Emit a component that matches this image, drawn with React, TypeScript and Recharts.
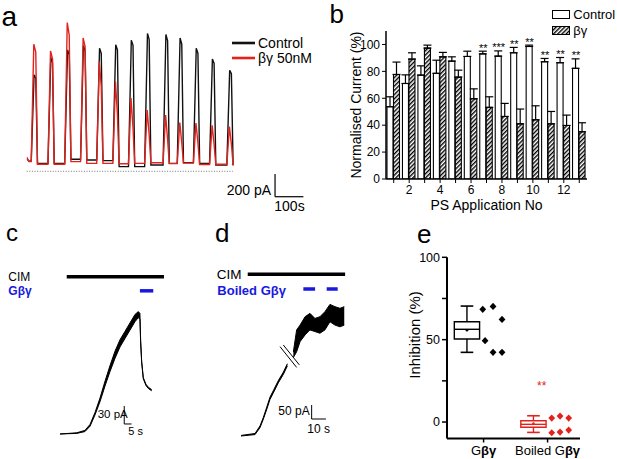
import React from "react"
import {
  ComposedChart,
  LineChart,
  ScatterChart,
  Line,
  Bar,
  Area,
  Scatter,
  XAxis,
  YAxis,
  ErrorBar,
  ReferenceLine,
  ReferenceArea,
  ReferenceDot,
  LabelList,
  Legend,
} from "recharts"

const W = 617
const H = 459
const FONT = '"Liberation Sans", Arial, Helvetica, sans-serif'
const RED = "#e3221c"
const BLUE = "#1818e0"

// ---- panel a: PS application traces (pA vs s)
const aOnset = [16, 75, 134, 190, 247, 304, 359, 416, 481, 531, 588, 645, 706]
const aEnd = 724
const aCtrlStart = 110
const aCtrlGap = [90, 70, 70, 106, 100, 94, 41, 41, 55, 70, 76, 70, 55, 60]
const aCtrlPeak = [850, 1000, 1070, 1110, 1085, 1115, 1155, 1215, 1205, 1175, 1085, 990, 890]
const aCtrlPlateau = [820, 960, 1030, 1060, 1040, 1070, 1110, 1160, 1150, 1120, 1040, 950, 860]
const aBgStart = 125
const aBgGap = [85, 62, 62, 85, 70, 70, 66, 70, 75, 68, 72, 60, 62, 60]
const aBgPeak = [1120, 1060, 1310, 1175, 965, 790, 645, 540, 495, 430, 425, 405, 395]
const aBgPlateau = [1050, 990, 1200, 1100, 750, 500, 380, 320, 280, 250, 250, 240, 240]

// ---- panel b: normalised current per application
const psApp = [1, 2, 3, 4, 5, 6, 7, 8, 9, 10, 11, 12, 13]
const ctrlMean = [53.7, 71, 77.2, 78.5, 87.6, 91.1, 93, 91.3, 93.8, 98.5, 87.1, 86.4, 82.2]
const ctrlSem = [7.4, 6.4, 6.9, 9.8, 3.2, 3.9, 2, 3.9, 4, 1, 2.5, 3.9, 7.1]
const bgMean = [77.7, 89.1, 97.3, 90.8, 75.7, 59.6, 53.2, 46.5, 41, 44, 41, 39.8, 35.1]
const bgSem = [9.2, 4.7, 2.2, 3.3, 5.2, 7.4, 7.9, 9.7, 11, 10.4, 9.2, 7.7, 6.7]
const sigMarks = ["", "", "", "", "", "", "**", "***", "**", "**", "**", "**", "**"]

// ---- panel c: CIM current, Gbg applied
const cTime = [3.4, 14.8, 20.4, 23.9, 27.3, 30.7, 34.1, 37.5, 40.9, 44.3, 47.7, 51.1, 54.5, 56.8, 57.9, 58.4, 59.1, 60.2, 62, 63.6, 65.9]
const cLow = [0, 1, 4, 13, 32, 54, 80, 104, 126, 145, 159, 173, 187, 194, 191, 152, 119, 92, 81, 76, 72]
const cHigh = [0, 2, 6, 16, 36, 60, 88, 114, 138, 157, 171, 185, 199, 204, 201, 156, 121, 94, 83, 78, 74]
const cCim = [8, 74.3]
const cGbg = [57.9, 67]

// ---- panel d: CIM current, boiled Gbg
const dTime = [4.2, 14, 17.5, 19.8, 22.2, 24.5, 26.8, 30.3, 33.8, 36.6, 38.7, 40.8, 43.1, 45.5, 49, 52.4, 55.9, 59.4, 62.9, 66.4, 69.9, 73.4, 76.4]
const dLow = [0, 5, 30, 60, 95, 131, 154, 190, 220, 250, null, 280, 301, 337, 361, 379, 373, 367, 379, 408, 396, 390, 396]
const dHigh = [2, 9, 36, 66, 103, 139, 162, 198, 228, 258, null, 300, 379, 396, 426, 438, 420, 426, 444, 470, 462, 456, 462]
const dCim = [8.9, 77]
const dBoiled = [[47.8, 56], [64.1, 71.8]]

// ---- panel e: inhibition box plots
const eGroupParts = [["G", "βγ"], ["Boiled G", "βγ"]]
const eTickPos = [2, 5.85]
const eBoxPos = [1, 5]
const eColor = ["#000", RED]
const eLow = [42.3, -6.3]
const eQ1 = [50.4, -3.2]
const eMed = [56.3, -1.4]
const eQ3 = [60.9, 0.8]
const eHigh = [70.4, 3.8]
const eMean = [55.7, -1.0]
const gbX = [1.95, 2.57, 3.11, 2.09, 2.57, 3.11]
const gbY = [68.4, 70.2, 62.3, 49.4, 42.3, 42.3]
const boilX = [6.1, 6.6, 7.12, 6.1, 6.6, 7.12]
const boilY = [2.4, 3.6, 2.4, -6.5, -6.1, -4.9]

function traceA(start: number, gap: number[], peak: number[], plateau: number[], rise: number) {
  const pts = [{ t: 0, v: start }, { t: 8, v: gap[0] }]
  aOnset.forEach((t0, i) => {
    pts.push({ t: t0, v: gap[i] })
    pts.push({ t: t0 + rise, v: peak[i] })
    pts.push({ t: t0 + 16, v: plateau[i] })
    pts.push({ t: t0 + 22, v: gap[i + 1] })
  })
  pts.push({ t: aEnd, v: gap[gap.length - 1] })
  return pts
}

const ctrlTrace = traceA(aCtrlStart, aCtrlGap, aCtrlPeak, aCtrlPlateau, 10)
const bgTrace = traceA(aBgStart, aBgGap, aBgPeak, aBgPlateau, 9)

const bTable = psApp.map((n, i) => ({
  n,
  ctrl: ctrlMean[i],
  bg: bgMean[i],
  ctrlErr: [0, ctrlSem[i]],
  bgErr: [0, bgSem[i]],
  sigTop: sigMarks[i] ? ctrlMean[i] + ctrlSem[i] : null,
  sig: sigMarks[i],
}))

const cData = cTime.map((t, i) => ({ t, range: [cLow[i], cHigh[i]] }))
const dData = dTime.map((t, i) => ({ t, range: dLow[i] === null ? null : [dLow[i], dHigh[i]] }))
const gbPts = gbX.map((x, i) => ({ x, y: gbY[i] }))
const boilPts = boilX.map((x, i) => ({ x, y: boilY[i] }))

const BAR = 6
const BAR_GAP = 0.5
const BOX_HALF = 0.76
const CAP_HALF = 0.38

const Txt = ({ x, y, size, color = "#000", bold = false, children }: any) => (
  <div
    style={{
      position: "absolute",
      left: x,
      top: y - size * 0.8465,
      fontSize: size,
      lineHeight: 1,
      color,
      fontWeight: bold ? "bold" : "normal",
      whiteSpace: "nowrap",
    }}
  >
    {children}
  </div>
)

const visible = (payload: any[]) => (payload || []).filter((p: any) => p.type !== "none" && p.dataKey !== "sigTop")

const TraceLegend = ({ payload }: any) => (
  <div>
    {visible(payload).map((p: any) => (
      <div key={p.value} style={{ display: "flex", alignItems: "center", height: 15.6 }}>
        <svg width={23.3} height={4}>
          <line x1={0} y1={2} x2={23.3} y2={2} stroke={p.color} strokeWidth={2.6} />
        </svg>
        <span style={{ marginLeft: 3, fontSize: 14, color: "#000" }}>{p.value}</span>
      </div>
    ))}
  </div>
)

const BarLegend = ({ payload }: any) => (
  <div>
    {visible(payload).map((p: any) => (
      <div key={p.value} style={{ display: "flex", alignItems: "center", height: 16.5 }}>
        <svg width={18} height={9}>
          <rect x={0.5} y={0.5} width={17} height={8} fill={p.color} stroke="#000" strokeWidth={1} />
        </svg>
        <span style={{ marginLeft: 3.3, fontSize: 13, color: "#000" }}>{p.value}</span>
      </div>
    ))}
  </div>
)

const SigLabel = ({ x, y, value }: any) =>
  value ? (
    <text x={x - (BAR + BAR_GAP) / 2} y={y + 0.5} textAnchor="middle" fontSize={11} fill="#000">
      {value}
    </text>
  ) : null

const GroupTick = ({ x, y, payload }: any) => {
  const i = eTickPos.indexOf(payload.value)
  const [plain, bold] = eGroupParts[i]
  return (
    <text x={x} y={y + 10.5} textAnchor="middle" fontSize={13} fill="#000">
      <tspan>{plain}</tspan>
      <tspan fontWeight="bold">{bold}</tspan>
    </text>
  )
}

const Diamond = ({ cx, cy, fill }: any) => (
  <polygon points={`${cx},${cy - 3.6} ${cx + 3.4},${cy} ${cx},${cy + 3.6} ${cx - 3.4},${cy}`} fill={fill} />
)

const layer = { position: "absolute" as const, left: 0, top: 0 }

export default function App() {
  return (
    <div
      style={{
        position: "absolute",
        left: 0,
        top: 0,
        width: W,
        height: H,
        background: "#fff",
        fontFamily: FONT,
        overflow: "hidden",
      }}
    >
      {/* a */}
      <div style={layer}>
        <LineChart width={W} height={H} margin={{ left: 26.7, right: 306.8, top: 14.7, bottom: 258.2 }}>
          <XAxis type="number" dataKey="t" domain={[0, 1000]} allowDataOverflow hide />
          <YAxis type="number" domain={[-260, 1380]} allowDataOverflow hide />
          <ReferenceLine segment={[{ x: 0, y: 0 }, { x: 727, y: 0 }]} stroke="#777" strokeDasharray="1 1.6" />
          <Line data={ctrlTrace} dataKey="v" name="Control" stroke="#111" strokeWidth={1.4} dot={false} isAnimationActive={false} />
          <Line data={bgTrace} dataKey="v" name="βγ 50nM" stroke={RED} strokeWidth={1.4} dot={false} isAnimationActive={false} />
          <ReferenceLine segment={[{ x: 876, y: -24 }, { x: 876, y: -224 }]} stroke="#000" strokeWidth={1.2} />
          <ReferenceLine segment={[{ x: 876, y: -224 }, { x: 976, y: -224 }]} stroke="#000" strokeWidth={1.2} />
          <Legend
            layout="vertical"
            align="center"
            verticalAlign="middle"
            wrapperStyle={{ left: 231.7, top: 34.9, width: 90 }}
            content={TraceLegend}
          />
        </LineChart>
      </div>

      {/* b */}
      <div style={layer}>
        <ComposedChart
          width={W}
          height={H}
          data={bTable}
          margin={{ left: 326, right: 30, top: 31, bottom: 240 }}
          barSize={BAR}
          barGap={BAR_GAP}
        >
          <defs>
            <pattern id="hatch" patternUnits="userSpaceOnUse" width={3} height={3} patternTransform="rotate(45)">
              <rect width={3} height={3} fill="#fff" />
              <line x1={0.7} y1={0} x2={0.7} y2={3} stroke="#000" strokeWidth={1.4} />
            </pattern>
          </defs>
          <XAxis
            dataKey="n"
            interval={0}
            tickFormatter={(v: number) => (v % 2 === 0 ? String(v) : "")}
            tick={{ fontSize: 12, fill: "#000" }}
            tickSize={4}
            axisLine={{ stroke: "#000", strokeWidth: 1.5 }}
            tickLine={{ stroke: "#000" }}
            height={40}
            label={{ value: "PS Application No", position: "insideBottom", offset: 9, fontSize: 14, fill: "#000" }}
          />
          <YAxis
            domain={[0, 110]}
            ticks={[0, 20, 40, 60, 80, 100]}
            allowDataOverflow
            width={60}
            tickSize={4}
            tick={{ fontSize: 12, fill: "#000" }}
            axisLine={{ stroke: "#000", strokeWidth: 1.5 }}
            tickLine={{ stroke: "#000" }}
            label={{ value: "Normalised Current (%)", angle: -90, position: "center", fontSize: 14, fill: "#000" }}
          />
          <Bar dataKey="ctrl" name="Control" fill="#fff" stroke="#000" strokeWidth={1.1} isAnimationActive={false}>
            <ErrorBar dataKey="ctrlErr" width={4} stroke="#000" strokeWidth={1.2} direction="y" />
          </Bar>
          <Bar dataKey="bg" name="βγ" fill="url(#hatch)" stroke="#000" strokeWidth={1.1} isAnimationActive={false}>
            <ErrorBar dataKey="bgErr" width={4} stroke="#000" strokeWidth={1.2} direction="y" />
          </Bar>
          <Line dataKey="sigTop" stroke="none" dot={false} activeDot={false} legendType="none" isAnimationActive={false}>
            <LabelList dataKey="sig" content={SigLabel} />
          </Line>
          <Legend
            layout="vertical"
            align="center"
            verticalAlign="middle"
            wrapperStyle={{ left: 552, top: 6, width: 65 }}
            content={BarLegend}
          />
        </ComposedChart>
      </div>

      {/* c */}
      <div style={layer}>
        <ComposedChart width={W} height={H} data={cData} margin={{ left: 55, right: 447.6, top: 270, bottom: 19 }}>
          <XAxis type="number" dataKey="t" domain={[0, 78]} allowDataOverflow hide />
          <YAxis type="number" domain={[-10, 273.3]} allowDataOverflow hide />
          <Area dataKey="range" type="linear" stroke="#000" strokeWidth={1} fill="#000" fillOpacity={1} isAnimationActive={false} />
          <ReferenceLine segment={[{ x: cCim[0], y: 262 }, { x: cCim[1], y: 262 }]} stroke="#000" strokeWidth={3.5} />
          <ReferenceLine segment={[{ x: cGbg[0], y: 238.6 }, { x: cGbg[1], y: 238.6 }]} stroke={BLUE} strokeWidth={3.5} />
          <ReferenceLine segment={[{ x: 47.2, y: 46.7 }, { x: 47.2, y: 16.7 }]} stroke="#000" strokeWidth={1} />
          <ReferenceLine segment={[{ x: 47.2, y: 16.7 }, { x: 52.2, y: 16.7 }]} stroke="#000" strokeWidth={1} />
        </ComposedChart>
      </div>

      {/* d */}
      <div style={layer}>
        <ComposedChart width={W} height={H} data={dData} margin={{ left: 235, right: 267.6, top: 268, bottom: 18.8 }}>
          <XAxis type="number" dataKey="t" domain={[0, 80]} allowDataOverflow hide />
          <YAxis type="number" domain={[-15, 600]} allowDataOverflow hide />
          <Area dataKey="range" type="linear" stroke="#000" strokeWidth={1} fill="#000" fillOpacity={1} connectNulls={false} isAnimationActive={false} />
          <ReferenceLine segment={[{ x: 31.5, y: 319 }, { x: 43.1, y: 245 }]} stroke="#000" strokeWidth={1} />
          <ReferenceLine segment={[{ x: 33.8, y: 325 }, { x: 45, y: 254 }]} stroke="#000" strokeWidth={1} />
          <ReferenceLine segment={[{ x: dCim[0], y: 577.5 }, { x: dCim[1], y: 577.5 }]} stroke="#000" strokeWidth={3.5} />
          {dBoiled.map(([a, b]) => (
            <ReferenceLine key={a} segment={[{ x: a, y: 525 }, { x: b, y: 525 }]} stroke={BLUE} strokeWidth={3.5} />
          ))}
          <ReferenceLine segment={[{ x: 53.6, y: 110.7 }, { x: 53.6, y: 60.7 }]} stroke="#000" strokeWidth={1} />
          <ReferenceLine segment={[{ x: 53.6, y: 60.7 }, { x: 63.6, y: 60.7 }]} stroke="#000" strokeWidth={1} />
        </ComposedChart>
      </div>

      {/* e */}
      <div style={layer}>
        <ScatterChart width={W} height={H} margin={{ left: 383, right: 37, top: 257.3, bottom: 0.5 }}>
          <XAxis
            type="number"
            dataKey="x"
            domain={[-0.2, 7.8]}
            allowDataOverflow
            ticks={eTickPos}
            tick={GroupTick}
            tickSize={4}
            axisLine={{ stroke: "#000", strokeWidth: 2 }}
            tickLine={{ stroke: "#000", strokeWidth: 1.5 }}
            height={20}
          />
          <YAxis
            type="number"
            dataKey="y"
            domain={[-10, 100]}
            allowDataOverflow
            ticks={[0, 25, 50, 75, 100]}
            tickFormatter={(v: number) => (v % 50 === 0 ? String(v) : "")}
            width={64}
            tickSize={5}
            tick={{ fontSize: 12.5, fill: "#000" }}
            axisLine={{ stroke: "#000", strokeWidth: 2 }}
            tickLine={{ stroke: "#000", strokeWidth: 1.5 }}
            label={{ value: "Inhibition (%)", angle: -90, position: "center", dy: -13, fontSize: 15, fill: "#000" }}
          />
          {eBoxPos.map((p, i) => (
            <ReferenceArea
              key={"box" + i}
              x1={p - BOX_HALF}
              x2={p + BOX_HALF}
              y1={eQ1[i]}
              y2={eQ3[i]}
              fill="none"
              stroke={eColor[i]}
              strokeWidth={1.4}
              fillOpacity={0}
            />
          ))}
          {eBoxPos.map((p, i) => (
            <ReferenceLine key={"med" + i} segment={[{ x: p - BOX_HALF, y: eMed[i] }, { x: p + BOX_HALF, y: eMed[i] }]} stroke={eColor[i]} strokeWidth={1.4} />
          ))}
          {eBoxPos.map((p, i) => (
            <ReferenceLine key={"wh" + i} segment={[{ x: p, y: eQ3[i] }, { x: p, y: eHigh[i] }]} stroke={eColor[i]} strokeWidth={1.4} />
          ))}
          {eBoxPos.map((p, i) => (
            <ReferenceLine key={"wl" + i} segment={[{ x: p, y: eLow[i] }, { x: p, y: eQ1[i] }]} stroke={eColor[i]} strokeWidth={1.4} />
          ))}
          {eBoxPos.map((p, i) => (
            <ReferenceLine key={"ch" + i} segment={[{ x: p - CAP_HALF, y: eHigh[i] }, { x: p + CAP_HALF, y: eHigh[i] }]} stroke={eColor[i]} strokeWidth={1.6} />
          ))}
          {eBoxPos.map((p, i) => (
            <ReferenceLine key={"cl" + i} segment={[{ x: p - CAP_HALF, y: eLow[i] }, { x: p + CAP_HALF, y: eLow[i] }]} stroke={eColor[i]} strokeWidth={1.6} />
          ))}
          {eBoxPos.map((p, i) => (
            <ReferenceDot key={"mean" + i} x={p} y={eMean[i]} r={1.3} fill={eColor[i]} stroke="none" />
          ))}
          <Scatter data={gbPts} fill="#000" shape={Diamond} isAnimationActive={false} />
          <Scatter data={boilPts} fill={RED} shape={Diamond} isAnimationActive={false} />
          <ReferenceDot x={5.5} y={22} r={0} stroke="none" label={{ value: "**", fill: RED, fontSize: 12, position: "center" }} />
        </ScatterChart>
      </div>

      {/* text annotations */}
      <Txt x={1.5} y={26.5} size={28}>a</Txt>
      <Txt x={329.5} y={23.3} size={26}>b</Txt>
      <Txt x={6} y={241.7} size={24}>c</Txt>
      <Txt x={215} y={241.7} size={26}>d</Txt>
      <Txt x={417} y={243} size={26}>e</Txt>

      <Txt x={226.7} y={195} size={14}>200 pA</Txt>
      <Txt x={274.3} y={211} size={14}>100s</Txt>

      <Txt x={8.3} y={281} size={12}>CIM</Txt>
      <Txt x={8.3} y={295} size={12} color={BLUE} bold>Gβγ</Txt>
      <Txt x={97.7} y={418.3} size={11.5}>30 pA</Txt>
      <Txt x={128.3} y={435} size={11}>5 s</Txt>

      <Txt x={216.7} y={279} size={13.5}>CIM</Txt>
      <Txt x={217.3} y={295} size={13} color={BLUE} bold>Boiled Gβγ</Txt>
      <Txt x={278.3} y={415} size={12}>50 pA</Txt>
      <Txt x={307.3} y={433} size={12}>10 s</Txt>
    </div>
  )
}
